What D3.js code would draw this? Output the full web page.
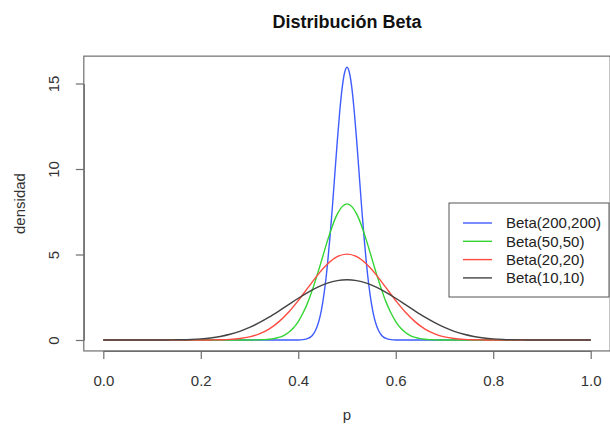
<!DOCTYPE html>
<html>
<head>
<meta charset="utf-8">
<script src="https://cdn.jsdelivr.net/npm/d3@7"></script>
<style>
    body { margin: 0; background: #fff; }
    text { font-family: "Liberation Sans", Arial, sans-serif; }
</style>
</head>
<body>
<div id="chart"></div>
<script>

// densities
let pBlue = [0, 0.40, 0.41, 0.42, 0.425, 0.43, 0.435, 0.44, 0.445, 0.45, 0.455, 0.46, 0.465, 0.47, 0.475, 0.48, 0.485, 0.49, 0.495, 0.50,
    0.505, 0.51, 0.515, 0.52, 0.525, 0.53, 0.535, 0.54, 0.545, 0.55, 0.555, 0.56, 0.565, 0.57, 0.575, 0.58, 0.59, 0.60, 1];
let dBlue = [0, 0, 0.02, 0.09, 0.17, 0.31, 0.54, 0.89, 1.41, 2.16, 3.16, 4.44, 6.00, 7.78, 9.69, 11.60, 13.33, 14.73, 15.63, 15.95,
    15.63, 14.73, 13.33, 11.60, 9.69, 7.78, 6.00, 4.44, 3.16, 2.16, 1.41, 0.89, 0.54, 0.31, 0.17, 0.09, 0.02, 0, 0];

let pGreen = [0, 0.30, 0.32, 0.33, 0.34, 0.35, 0.36, 0.37, 0.38, 0.39, 0.40, 0.41, 0.42, 0.43, 0.44, 0.45, 0.46, 0.47, 0.48, 0.49, 0.50,
    0.51, 0.52, 0.53, 0.54, 0.55, 0.56, 0.57, 0.58, 0.59, 0.60, 0.61, 0.62, 0.63, 0.64, 0.65, 0.66, 0.67, 0.68, 0.70, 1];
let dGreen = [0, 0, 0.01, 0.02, 0.04, 0.08, 0.15, 0.26, 0.44, 0.70, 1.08, 1.59, 2.23, 3.02, 3.91, 4.86, 5.81, 6.67, 7.36, 7.80, 7.96,
    7.80, 7.36, 6.67, 5.81, 4.86, 3.91, 3.02, 2.23, 1.59, 1.08, 0.70, 0.44, 0.26, 0.15, 0.08, 0.04, 0.02, 0.01, 0, 0];

let pRed = [0, 0.18, 0.20, 0.22, 0.24, 0.26, 0.28, 0.30, 0.32, 0.34, 0.36, 0.38, 0.40, 0.42, 0.44, 0.46, 0.48, 0.50,
    0.52, 0.54, 0.56, 0.58, 0.60, 0.62, 0.64, 0.66, 0.68, 0.70, 0.72, 0.74, 0.76, 0.78, 0.80, 0.82, 1];
let dRed = [0, 0, 0, 0.004, 0.013, 0.035, 0.084, 0.18, 0.36, 0.64, 1.06, 1.62, 2.31, 3.06, 3.81, 4.44, 4.87, 5.02,
    4.87, 4.44, 3.81, 3.06, 2.31, 1.62, 1.06, 0.64, 0.36, 0.18, 0.084, 0.035, 0.013, 0.004, 0, 0, 0];

let pBlack = [0, 0.06, 0.08, 0.10, 0.12, 0.14, 0.16, 0.18, 0.20, 0.22, 0.24, 0.26, 0.28, 0.30, 0.32, 0.34, 0.36, 0.38, 0.40, 0.42, 0.44, 0.46, 0.48, 0.50,
    0.52, 0.54, 0.56, 0.58, 0.60, 0.62, 0.64, 0.66, 0.68, 0.70, 0.72, 0.74, 0.76, 0.78, 0.80, 0.82, 0.84, 0.86, 0.88, 0.90, 0.92, 0.94, 1];
let dBlack = [0, 0, 0, 0.0004, 0.0015, 0.005, 0.013, 0.031, 0.063, 0.119, 0.207, 0.334, 0.508, 0.734, 1.011, 1.333, 1.690, 2.066, 2.441, 2.790, 3.093, 3.326, 3.474, 3.524,
    3.474, 3.326, 3.093, 2.790, 2.441, 2.066, 1.690, 1.333, 1.011, 0.734, 0.508, 0.334, 0.207, 0.119, 0.063, 0.031, 0.013, 0.005, 0.0015, 0.0004, 0, 0, 0];

let seriesNames = ["Beta(200,200)", "Beta(50,50)", "Beta(20,20)", "Beta(10,10)"];
let seriesColors = ["#3f5cff", "#33d433", "#ff4a40", "#444444"];

let xTicks = [0, 0.2, 0.4, 0.6, 0.8, 1.0];
let yTicks = [0, 5, 10, 15];

let W = 610, H = 425;
let fontSize = "15px";

let svg = d3.select("#chart").append("svg")
    .attr("width", W)
    .attr("height", H);

let x = d3.scaleLinear().domain([0, 1]).range([103.3, 590.7]);
let y = d3.scaleLinear().domain([0, 15]).range([340, 83.5]);

// plot box (R adds 4% to each side)
let boxL = x(-0.04), boxR = x(1.04), boxT = y(16.6), boxB = y(-0.64);

svg.append("rect")
    .attr("x", boxL)
    .attr("y", boxT)
    .attr("width", boxR - boxL)
    .attr("height", boxB - boxT)
    .attr("fill", "none")
    .attr("stroke", "#6e6e6e")
    .attr("stroke-width", 1.2);

// x axis
let xAxis = svg.append("g")
    .attr("transform", "translate(0," + boxB + ")")
    .call(d3.axisBottom(x).tickValues(xTicks).tickFormat(d3.format(".1f")).tickSize(8).tickSizeOuter(0).tickPadding(16));
xAxis.select(".domain").attr("stroke", "#6e6e6e").attr("stroke-width", 1.2);
xAxis.selectAll(".tick line").attr("stroke", "#6e6e6e").attr("stroke-width", 1.2);
xAxis.selectAll(".tick text")
    .attr("fill", "#333")
    .style("font-size", fontSize)
    .style("font-family", "'Liberation Sans', Arial, sans-serif");

// y axis, labels rotated like R
let yAxis = svg.append("g")
    .attr("transform", "translate(" + boxL + ",0)")
    .call(d3.axisLeft(y).tickValues(yTicks).tickSize(8).tickSizeOuter(0));
yAxis.select(".domain").attr("stroke", "#6e6e6e").attr("stroke-width", 1.2);
yAxis.selectAll(".tick line").attr("stroke", "#6e6e6e").attr("stroke-width", 1.2);
yAxis.selectAll(".tick text")
    .attr("fill", "#333")
    .attr("x", 0)
    .attr("dy", 0)
    .attr("text-anchor", "middle")
    .attr("transform", "translate(-25,0) rotate(-90)")
    .style("font-size", fontSize)
    .style("font-family", "'Liberation Sans', Arial, sans-serif");

// curves
let line = d3.line()
    .x(d => x(d[0]))
    .y(d => y(d[1]))
    .curve(d3.curveMonotoneX);

let series = [
    d3.zip(pBlue, dBlue),
    d3.zip(pGreen, dGreen),
    d3.zip(pRed, dRed),
    d3.zip(pBlack, dBlack)
];

series.forEach((s, i) => {
    svg.append("path")
        .datum(s)
        .attr("d", line)
        .attr("fill", "none")
        .attr("stroke", seriesColors[i])
        .attr("stroke-width", 1.4);
});

// titles
svg.append("text")
    .attr("x", (boxL + boxR) / 2)
    .attr("y", 28)
    .attr("text-anchor", "middle")
    .style("font-size", "18px")
    .style("font-weight", "bold")
    .attr("fill", "#111")
    .text("Distribución Beta");

svg.append("text")
    .attr("x", (boxL + boxR) / 2)
    .attr("y", 420)
    .attr("text-anchor", "middle")
    .style("font-size", fontSize)
    .attr("fill", "#333")
    .text("p");

svg.append("text")
    .attr("transform", "translate(25," + ((boxT + boxB) / 2) + ") rotate(-90)")
    .attr("text-anchor", "middle")
    .style("font-size", fontSize)
    .attr("fill", "#333")
    .text("densidad");

// legend
let legend = svg.append("g").attr("transform", "translate(449,203)");
legend.append("rect")
    .attr("width", 160)
    .attr("height", 94)
    .attr("fill", "#fff")
    .attr("stroke", "#555")
    .attr("stroke-width", 1);

seriesNames.forEach((name, i) => {
    let ly = 20 + i * 18.3;
    legend.append("line")
        .attr("x1", 14).attr("x2", 43)
        .attr("y1", ly).attr("y2", ly)
        .attr("stroke", seriesColors[i])
        .attr("stroke-width", 1.4);
    legend.append("text")
        .attr("x", 57)
        .attr("y", ly)
        .attr("dy", "0.35em")
        .style("font-size", fontSize)
        .attr("fill", "#222")
        .text(name);
});

</script>
</body>
</html>
